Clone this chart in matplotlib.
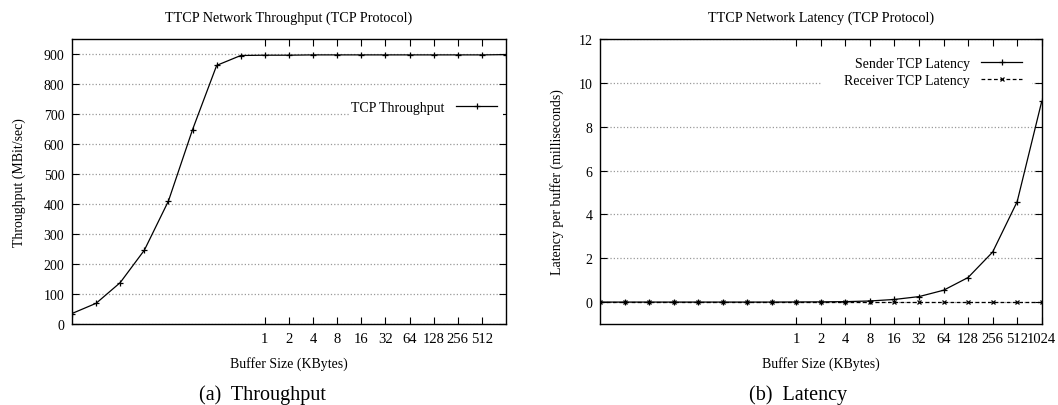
import numpy as np
import matplotlib.pyplot as plt
from matplotlib.patches import Rectangle

plt.rcParams['font.family'] = ['Liberation Serif', 'DejaVu Serif']

# buffer sizes in KBytes (4 bytes .. 1024 KB)
buffer_kb = [0.00390625, 0.0078125, 0.015625, 0.03125, 0.0625, 0.125, 0.25, 0.5,
             1, 2, 4, 8, 16, 32, 64, 128, 256, 512, 1024]
tick_vals_a = [1, 2, 4, 8, 16, 32, 64, 128, 256, 512]
tick_vals_b = [1, 2, 4, 8, 16, 32, 64, 128, 256, 512, 1024]

throughput = [35, 69, 138, 246, 410, 648, 862, 895, 896, 896, 897, 897, 897,
              897, 897, 897, 897, 897, 898]
sender_lat = [0.0, 0.0, 0.0, 0.0, 0.0, 0.0, 0.0, 0.0, 0.005, 0.01, 0.02, 0.05,
              0.12, 0.25, 0.54, 1.12, 2.28, 4.58, 9.15]
receiver_lat = [0.0, 0.0, 0.0, 0.0, 0.0, 0.0, 0.0, 0.0, 0.0, 0.0, 0.0, 0.0,
                0.0, 0.0, 0.0, 0.0, 0.0, 0.0, 0.0]

W, H = 1058, 406
fig = plt.figure(figsize=(W / 100, H / 100), dpi=100)


def px_axes(x0, y0, x1, y1):
    ax = fig.add_axes([x0 / W, 1 - y1 / H, (x1 - x0) / W, (y1 - y0) / H])
    ax._px = (x0, y0, x1, y1)
    return ax


def blank_box(ax, x0, y0, x1, y1):
    # white key box that hides the grid behind the legend (gnuplot style)
    ax_x0, ax_y0, ax_x1, ax_y1 = ax._px
    fx = lambda x: (x - ax_x0) / (ax_x1 - ax_x0)
    fy = lambda y: (ax_y1 - y) / (ax_y1 - ax_y0)
    ax.add_patch(Rectangle((fx(x0), fy(y1)), fx(x1) - fx(x0), fy(y0) - fy(y1),
                           transform=ax.transAxes, facecolor='white',
                           edgecolor='none', zorder=1))


def style(ax, ticks):
    ax.set_xscale('log', base=2)
    ax.set_xlim(buffer_kb[0], buffer_kb[-1])
    ax.set_xticks(ticks)
    ax.set_xticklabels([str(t) for t in ticks])
    ax.minorticks_off()
    ax.tick_params(direction='in', top=True, right=True, length=5, width=0.8)
    ax.tick_params(axis='x', pad=6, labelsize=10.5)
    ax.tick_params(axis='y', pad=5.5, labelsize=10)
    ax.yaxis.grid(True, color='0.6', linestyle=':', linewidth=0.9)
    ax.set_axisbelow(True)
    for s in ax.spines.values():
        s.set_linewidth(1.0)
    ax.set_xlabel('Buffer Size (KBytes)', fontsize=10, labelpad=8)


# (a) throughput
ax1 = px_axes(72, 40, 506, 325)
ax1.plot(buffer_kb, throughput, color='black', linewidth=0.9, marker='+',
         markersize=4, markeredgewidth=0.9, label='TCP Throughput', zorder=3)
style(ax1, tick_vals_a)
ax1.set_ylim(0, 950)
ax1.set_yticks(np.arange(0, 901, 100))
ax1.set_ylabel('Throughput (MBit/sec)', fontsize=10, labelpad=13)
ax1.set_title('TTCP Network Throughput (TCP Protocol)', fontsize=10.2, pad=13)
blank_box(ax1, 350, 98, 503, 119)
ax1.legend(loc='upper right', bbox_to_anchor=(0.993, 0.802), markerfirst=False,
           frameon=False, fontsize=10, handlelength=3, borderaxespad=0)

# (b) latency
ax2 = px_axes(600, 40, 1041.7, 325)
ax2.plot(buffer_kb, sender_lat, color='black', linewidth=0.9, marker='+',
         markersize=4, markeredgewidth=0.9, label='Sender TCP Latency', zorder=3)
ax2.plot(buffer_kb, receiver_lat, color='black', linewidth=0.9, linestyle='--',
         dashes=(3, 2), marker='x', markersize=3.5, markeredgewidth=0.9,
         label='Receiver TCP Latency', zorder=3)
style(ax2, tick_vals_b)
ax2.set_ylim(-1, 12)
ax2.set_yticks(np.arange(0, 13, 2))
ax2.set_ylabel('Latency per buffer (milliseconds)', fontsize=10, labelpad=10.5)
ax2.set_title('TTCP Network Latency (TCP Protocol)', fontsize=10.2, pad=13)
blank_box(ax2, 821, 50, 1032, 92)
ax2.legend(loc='upper right', bbox_to_anchor=(0.969, 0.958), markerfirst=False,
           frameon=False, fontsize=10, handlelength=3, borderaxespad=0,
           labelspacing=0.3)

fig.text(262 / W, 1 - 395 / H, '(a)  Throughput', ha='center', va='center', fontsize=14.5)
fig.text(798 / W, 1 - 395 / H, '(b)  Latency', ha='center', va='center', fontsize=14.5)

fig.savefig('out.png', dpi=100)
